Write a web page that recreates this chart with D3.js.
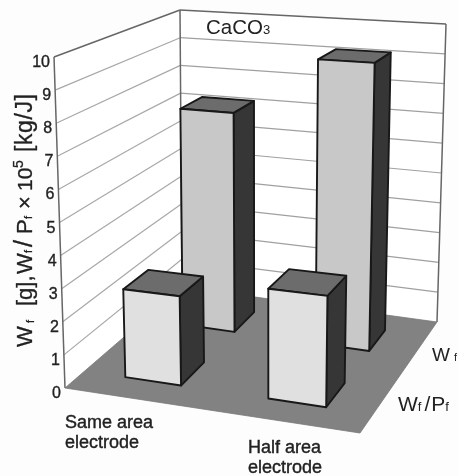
<!DOCTYPE html>
<html><head><meta charset="utf-8">
<script src="https://cdnjs.cloudflare.com/ajax/libs/d3/7.8.5/d3.min.js"></script>
<style>html,body{margin:0;padding:0;background:#fdfdfd}svg{display:block;filter:blur(.45px)}text{font-family:"Liberation Sans",Arial,sans-serif;fill:#222}</style>
</head><body><svg id="c" width="459" height="476"></svg>
<script>
const categories = ["Same area electrode", "Half area electrode"];
const seriesNames = ["Wf/Pf", "Wf"];
const wfPf = [2.7, 3.25];
const wf = [7.25, 9.2];
const yTicks = [0,1,2,3,4,5,6,7,8,9,10];

const svg = d3.select("#c");
const floorQuad = [[65,388],[360,433],[437,322],[182,287]];
const topQuad = [[54,57],[367,77],[446,24],[180,10]];
function homography(q){
  const [[x0,y0],[x1,y1],[x2,y2],[x3,y3]] = q;
  const dx1=x1-x2,dx2=x3-x2,sx=x0-x1+x2-x3,dy1=y1-y2,dy2=y3-y2,sy=y0-y1+y2-y3;
  const den=dx1*dy2-dx2*dy1, g=(sx*dy2-dx2*sy)/den, h=(dx1*sy-sx*dy1)/den;
  const a=x1-x0+g*x1,b=x3-x0+h*x3,d=y1-y0+g*y1,e=y3-y0+h*y3;
  return (u,v)=>{const w=g*u+h*v+1;return [(a*u+b*v+x0)/w,(d*u+e*v+y0)/w];};
}
const F=homography(floorQuad), T=homography(topQuad);
const xS=d3.scaleBand().domain(categories).range([-.006,.994]).paddingInner(.606).paddingOuter(.303);
const zS=d3.scaleBand().domain(seriesNames).range([0,1]).paddingInner(.59).paddingOuter(.295);
const yS=d3.scaleLinear().domain([0,10]).range([0,1]);
const P=(u,v,val)=>{const t=yS(val),a=F(u,v),b=T(u,v);return [a[0]+(b[0]-a[0])*t,a[1]+(b[1]-a[1])*t];};
const poly=(pts,fill,stroke,sw)=>svg.append("polygon").attr("points",pts.map(p=>p.join(",")).join(" ")).attr("fill",fill).attr("stroke",stroke).attr("stroke-width",sw).attr("stroke-linejoin","round");
const line=(a,b,stroke,sw)=>svg.append("line").attr("x1",a[0]).attr("y1",a[1]).attr("x2",b[0]).attr("y2",b[1]).attr("stroke",stroke).attr("stroke-width",sw);

// walls
poly([P(0,0,0),P(0,1,0),P(0,1,10),P(0,0,10)],"#fff","none",0);
poly([P(0,1,0),P(1,1,0),P(1,1,10),P(0,1,10)],"#fff","none",0);
yTicks.slice(1,-1).forEach(t=>{
  line(P(0,0,t),P(0,1,t),"#a8a8a8",1.2);
  line(P(0,1,t),P(1,1,t),"#a0a0a0",1.2);
});
[[P(0,0,0),P(0,0,10)],[P(0,0,10),P(0,1,10)],[P(0,1,0),P(0,1,10)],[P(0,1,10),P(1,1,10)],[P(1,1,10),P(1,1,0)]]
  .forEach(([a,b])=>line(a,b,"#666",1.5));
// floor
poly([P(0,0,0),P(1,0,0),P(1,1,0),P(0,1,0)],"#828282","#777",.8);

function bar(cat,ser,val,frontFill){
  const u0=xS(cat),u1=u0+xS.bandwidth(),v0=zS(ser),v1=v0+zS.bandwidth();
  const K="#181818";
  poly([P(u1,v0,0),P(u1,v1,0),P(u1,v1,val),P(u1,v0,val)],"#363636",K,1.9);
  poly([P(u0,v0,val),P(u1,v0,val),P(u1,v1,val),P(u0,v1,val)],"#6c6c6c",K,1.9);
  poly([P(u0,v0,0),P(u1,v0,0),P(u1,v0,val),P(u0,v0,val)],frontFill,K,1.9);
}
categories.forEach((c,i)=>bar(c,seriesNames[1],wf[i],"#c8c8c8"));
categories.forEach((c,i)=>bar(c,seriesNames[0],wfPf[i],"#e0e0e0"));

// tick labels
yTicks.forEach(t=>{
  const p=P(0,0,t);
  svg.append("text").attr("x",p[0]-4).attr("y",p[1]+10).attr("text-anchor","end").attr("font-size",16).attr("stroke","#222").attr("stroke-width",.35).text(t);
});
// title
const title=svg.append("text").attr("x",206).attr("y",34).attr("font-size",20.5);
title.append("tspan").text("CaCO");
title.append("tspan").attr("font-size",13).attr("dy",0).text("3");
// y axis title: pieces placed along the rotated baseline
const yt=svg.append("text").attr("transform","translate(32,346) rotate(-90)").attr("font-size",21).attr("stroke","#222").attr("stroke-width",.3);
[["W",-1,22,0],["f",23,11,2],["[g],",40,22,0],["W",72,22,0],["f",93,11,0],["/",99,25,0],["P",112,22,0],["f",127,11,0],
 ["×",137,22,0],["10",155,21,0],["5",178,14,-9],["[kg/J]",194,23,0]]
 .forEach(([s,x,fs,dy])=>yt.append("tspan").attr("x",x).attr("y",dy).attr("font-size",fs).attr("letter-spacing",s.length>4?.6:0).text(s));
// category labels
const catPos=[[65,428],[248,453]];
categories.forEach((c,i)=>{
  const words=c.split(" electrode");
  const g=svg.append("text").attr("font-size",18).attr("stroke","#222").attr("stroke-width",.4);
  g.append("tspan").attr("x",catPos[i][0]).attr("y",catPos[i][1]).text(words[0]);
  g.append("tspan").attr("x",catPos[i][0]).attr("y",catPos[i][1]+19.5).text("electrode");
});
// series labels
const s1=svg.append("text").attr("x",432).attr("y",361).attr("font-size",19);
s1.append("tspan").text("W");
s1.append("tspan").attr("font-size",11).attr("dx",4).text("f");
const s2=svg.append("text").attr("x",398).attr("y",411).attr("font-size",21);
s2.append("tspan").text("W");
s2.append("tspan").attr("font-size",13).text("f");
s2.append("tspan").attr("dx",3).text("/");
s2.append("tspan").attr("dx",1).text("P");
s2.append("tspan").attr("font-size",13).text("f");
</script></body></html>
